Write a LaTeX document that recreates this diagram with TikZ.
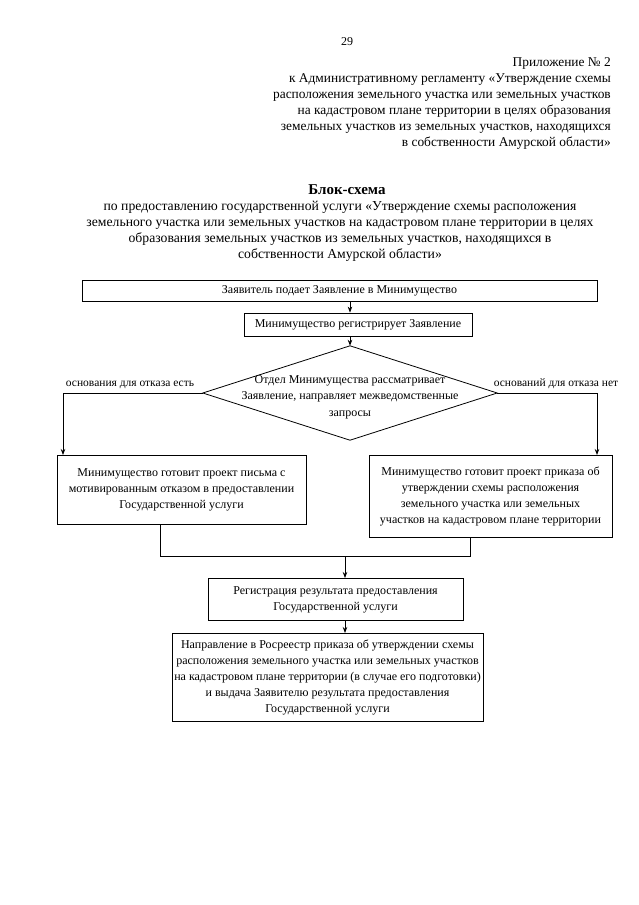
\documentclass[tikz,border=0pt]{standalone}
\usepackage{fontspec}
\setmainfont{Liberation Serif}
\usetikzlibrary{arrows.meta}

\tikzset{
  stepbox/.style={draw, line width=0.8pt, align=center, inner sep=2pt,
    font=\fontsize{12}{16}\selectfont},
  choice/.style={align=center, inner sep=0pt,
    minimum width=294pt, minimum height=94pt, font=\fontsize{12}{16.5}\selectfont},
  branch/.style={font=\fontsize{11.5}{14}\selectfont, inner sep=1pt},
  link/.style={line width=0.8pt},
  hdr/.style={font=\fontsize{13.4}{16}\selectfont, align=right, inner sep=0pt},
}

\begin{document}
\begin{tikzpicture}[x=1pt, y=-1pt, >={Stealth[length=6pt,width=4.5pt]}]
  \useasboundingbox (0,0) rectangle (639,905);

  % page header
  \node[font=\fontsize{12}{14}\selectfont] (page) at (347,42) {29};
  \node[hdr, anchor=north east] (annex) at (611,57)
    {Приложение № 2\\
     к Административному регламенту «Утверждение схемы\\
     расположения земельного участка или земельных участков\\
     на кадастровом плане территории в целях образования\\
     земельных участков из земельных участков, находящихся\\
     в собственности Амурской области»};

  % title
  \node[font=\fontsize{15}{17}\selectfont\bfseries] (title) at (347,190) {Блок-схема};
  \node[font=\fontsize{13.7}{16}\selectfont, align=center, anchor=north] (subtitle) at (340,198)
    {по предоставлению государственной услуги «Утверждение схемы расположения\\
     земельного участка или земельных участков на кадастровом плане территории в целях\\
     образования земельных участков из земельных участков, находящихся в\\
     собственности Амурской области»};

  % flow
  \coordinate (axis) at (350,0);
  \node[stepbox, minimum width=515pt, minimum height=21pt] (apply) at (339.5,290.5)
    {Заявитель подает Заявление в Минимущество};
  \node[stepbox, minimum width=228pt, minimum height=23pt] (register) at (358,324.5)
    {Минимущество регистрирует Заявление};
  \node[choice] (review) at (350,393) {};
  \draw[link] (review.north) -- (review.east) -- (review.south) -- (review.west) -- cycle;
  \node[font=\fontsize{12}{16.5}\selectfont, align=center] (reviewtext) at (350,397)
    {Отдел Минимущества рассматривает\\
     Заявление, направляет межведомственные\\ запросы};
  \node[stepbox, minimum width=249pt, minimum height=69pt, anchor=north] (refuse) at (181.5,455)
    {Минимущество готовит проект письма с\\
     мотивированным отказом в предоставлении\\
     Государственной услуги};
  \node[stepbox, minimum width=243pt, minimum height=82pt, anchor=north] (approve) at (490.5,455)
    {Минимущество готовит проект приказа об\\
     утверждении схемы расположения\\
     земельного участка или земельных\\
     участков на кадастровом плане территории};
  \node[stepbox, minimum width=255pt, minimum height=42pt, anchor=north] (result) at (335.5,578)
    {Регистрация результата предоставления\\
     Государственной услуги};
  \node[stepbox, minimum width=311pt, minimum height=88pt, anchor=north] (issue) at (327.5,633)
    {Направление в Росреестр приказа об утверждении схемы\\
     расположения земельного участка или земельных участков\\
     на кадастровом плане территории (в случае его подготовки)\\
     и выдача Заявителю результата предоставления\\
     Государственной услуги};

  \coordinate (leftcol) at (63,0);
  \coordinate (rightcol) at (597,0);
  \coordinate (merge) at (345,556);

  \draw[link, ->] (axis |- apply.south) -- (axis |- register.north);
  \draw[link, ->] (axis |- register.south) -- (review.north);
  \draw[link, ->] (review.west) -- (leftcol |- review.west) -- (leftcol |- refuse.north);
  \draw[link, ->] (review.east) -- (rightcol |- review.east) -- (rightcol |- approve.north);
  \node[branch, anchor=south] (yes) at (130,390) {основания для отказа есть};
  \node[branch, anchor=south] (no) at (556,390) {оснований для отказа нет};
  \draw[link] (refuse.south -| 160,0) -- (160,0 |- merge) -- (470,0 |- merge) -- (approve.south -| 470,0);
  \draw[link, ->] (merge) -- (merge |- result.north);
  \draw[link, ->] (merge |- result.south) -- (merge |- issue.north);
\end{tikzpicture}
\end{document}
